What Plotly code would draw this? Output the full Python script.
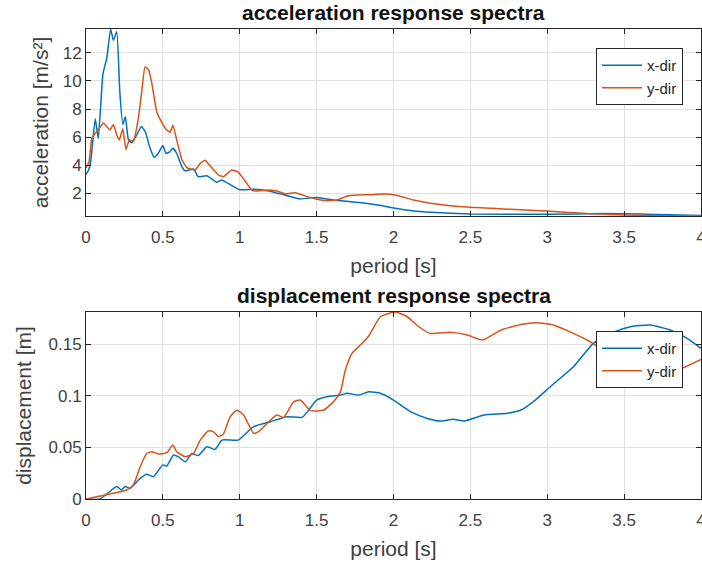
import plotly.graph_objects as go

# ---- data (period [s], values) ----
acc_x_T = [0, 0.015, 0.03, 0.06, 0.08, 0.11, 0.135, 0.16, 0.178, 0.2, 0.22, 0.24, 0.256, 0.276, 0.298, 0.33, 0.36,
           0.385, 0.417, 0.443, 0.47, 0.5, 0.52, 0.545, 0.565, 0.59, 0.623, 0.645, 0.7, 0.73, 0.786, 0.85, 0.883,
           0.94, 1.0, 1.09, 1.18, 1.285, 1.39, 1.5, 1.61, 1.72, 1.83, 1.92, 2.01, 2.12, 2.24, 2.5, 3.0, 3.37, 3.6,
           3.8, 4.0]
acc_x = [3.35, 3.6, 4.2, 7.3, 5.9, 10.5, 11.6, 13.7, 12.9, 13.5, 9.2, 6.9, 7.45, 5.8, 5.6, 6.15, 6.75,
         6.4, 5.2, 4.55, 4.85, 5.4, 4.85, 4.95, 5.2, 4.85, 3.9, 3.6, 3.73, 3.18, 3.25, 2.78, 2.95,
         2.6, 2.25, 2.28, 2.18, 1.9, 1.6, 1.7, 1.52, 1.4, 1.27, 1.12, 0.93, 0.75, 0.64, 0.53, 0.5, 0.55, 0.52,
         0.47, 0.42]

acc_y_T = [0, 0.02, 0.037, 0.06, 0.087, 0.113, 0.135, 0.156, 0.178, 0.2, 0.217, 0.239, 0.26, 0.282, 0.308, 0.34,
           0.362, 0.384, 0.406, 0.427, 0.46, 0.49, 0.525, 0.547, 0.565, 0.59, 0.623, 0.656, 0.71, 0.743, 0.775,
           0.8, 0.862, 0.894, 0.949, 0.99, 1.036, 1.08, 1.12, 1.18, 1.24, 1.3, 1.36, 1.44, 1.5, 1.567, 1.63, 1.7,
           1.763, 1.85, 1.94, 2.01, 2.13, 2.24, 2.5, 2.76, 3.02, 3.26, 3.5, 3.7, 4.0]
acc_y = [3.8, 4.25, 5.9, 6.27, 6.63, 7.0, 6.75, 6.5, 6.9, 6.15, 5.8, 6.6, 5.1, 5.8, 5.72, 7.3,
         9.2, 11.0, 10.8, 9.9, 7.8, 7.1, 6.5, 6.34, 6.86, 5.8, 4.4, 3.82, 3.66, 4.13, 4.35,
         4.05, 3.3, 3.18, 3.66, 3.5, 2.85, 2.2, 2.16, 2.23, 2.16, 1.95, 2.04, 1.76, 1.57, 1.47, 1.52, 1.8,
         1.88, 1.9, 1.95, 1.88, 1.52, 1.29, 1.0, 0.86, 0.72, 0.55, 0.46, 0.4, 0.4]

dis_x_T = [0, 0.09, 0.2, 0.23, 0.254, 0.287, 0.352, 0.395, 0.438, 0.5, 0.525, 0.569, 0.6, 0.645, 0.689, 0.73,
           0.786, 0.84, 0.884, 0.99, 1.09, 1.2, 1.307, 1.405, 1.448, 1.5, 1.567, 1.655, 1.698, 1.774, 1.84, 1.915,
           2.0, 2.11, 2.22, 2.3, 2.39, 2.46, 2.59, 2.74, 2.83, 2.91, 3.02, 3.17, 3.3, 3.44, 3.54, 3.67, 3.8, 3.91,
           4.0]
dis_x = [0, 0.0, 0.012, 0.0087, 0.012, 0.0105, 0.02, 0.024, 0.0216, 0.033, 0.032, 0.0426, 0.041, 0.036, 0.044,
         0.042, 0.0506, 0.048, 0.057, 0.057, 0.07, 0.0748, 0.0797, 0.079, 0.086, 0.0958, 0.099, 0.1006, 0.1023,
         0.1006, 0.1039, 0.1023, 0.0958, 0.0845, 0.078, 0.0755, 0.0771, 0.0755, 0.0813, 0.083, 0.0861, 0.0942,
         0.1087, 0.128, 0.1507, 0.162, 0.1668, 0.1684, 0.1636, 0.1555, 0.1458]

dis_y_T = [0, 0.156, 0.265, 0.308, 0.352, 0.395, 0.428, 0.471, 0.525, 0.565, 0.59, 0.645, 0.699, 0.743, 0.797,
           0.83, 0.862, 0.894, 0.938, 0.981, 1.025, 1.09, 1.12, 1.2, 1.242, 1.285, 1.35, 1.394, 1.46, 1.546, 1.61,
           1.655, 1.687, 1.73, 1.785, 1.84, 1.915, 2.01, 2.09, 2.15, 2.236, 2.37, 2.48, 2.58, 2.7, 2.83, 2.93,
           3.04, 3.17, 3.28, 3.4, 3.5, 3.6, 3.7, 3.8, 3.9, 4.0]
dis_y = [0, 0.0048, 0.0087, 0.0135, 0.031, 0.044, 0.0458, 0.0435, 0.0448, 0.0523, 0.0458, 0.041, 0.044, 0.057,
         0.066, 0.065, 0.0603, 0.0629, 0.0797, 0.086, 0.0813, 0.0636, 0.065, 0.0765, 0.0813, 0.079, 0.094, 0.0958,
         0.0855, 0.0861, 0.0942, 0.1039, 0.1248, 0.141, 0.149, 0.158, 0.1764, 0.181, 0.1764, 0.1684, 0.1603,
         0.1613, 0.1587, 0.1539, 0.1636, 0.169, 0.1706, 0.1684, 0.1603, 0.1522, 0.14, 0.131, 0.125, 0.122, 0.123,
         0.128, 0.135]

x_ticks = [0, 0.5, 1, 1.5, 2, 2.5, 3, 3.5, 4]
acc_ticks = [2, 4, 6, 8, 10, 12]
dis_ticks = [0, 0.05, 0.1, 0.15]
series_names = ["x-dir", "y-dir"]

BLUE = "#0072BD"
ORANGE = "#D95319"
AX = "#262626"
GRID = "#e0e0e0"
FONT = "Liberation Sans, Arial, sans-serif"
TICKCOL = "#404040"

W, H = 702, 566
fig = go.Figure()
line_kw = dict(width=1.5)
fig.add_trace(go.Scatter(x=acc_x_T, y=acc_x, mode="lines", name=series_names[0],
                         line=dict(color=BLUE, shape="spline", smoothing=0.4, **line_kw),
                         xaxis="x", yaxis="y", legend="legend"))
fig.add_trace(go.Scatter(x=acc_y_T, y=acc_y, mode="lines", name=series_names[1],
                         line=dict(color=ORANGE, shape="spline", smoothing=0.4, **line_kw),
                         xaxis="x", yaxis="y", legend="legend"))
fig.add_trace(go.Scatter(x=dis_x_T, y=dis_x, mode="lines", name=series_names[0],
                         line=dict(color=BLUE, shape="spline", smoothing=0.5, **line_kw),
                         xaxis="x2", yaxis="y2", legend="legend2"))
fig.add_trace(go.Scatter(x=dis_y_T, y=dis_y, mode="lines", name=series_names[1],
                         line=dict(color=ORANGE, shape="spline", smoothing=0.5, **line_kw),
                         xaxis="x2", yaxis="y2", legend="legend2"))

def px_x(p):
    return p / W

def px_y(p):
    return (H - p) / H

axis_common = dict(showline=True, linecolor=AX, linewidth=1, mirror="allticks", ticks="inside",
                   ticklen=5, tickcolor=AX, showgrid=True, gridcolor=GRID, gridwidth=1, zeroline=False,
                   tickfont=dict(family=FONT, size=17, color=TICKCOL), automargin=False,
                   ticklabeloverflow="allow")

def title(text, standoff):
    return dict(text=text, font=dict(size=21, family=FONT, color=TICKCOL), standoff=standoff)

xdom = [px_x(86), px_x(701)]
fig.update_layout(
    width=W, height=H, margin=dict(l=0, r=0, t=0, b=0),
    paper_bgcolor="white", plot_bgcolor="white",
    font=dict(family=FONT, color="#262626"),
    xaxis=dict(domain=xdom, range=[0, 4], tickvals=x_ticks, anchor="y", ticklabelstandoff=6,
               title=title("period [s]", 11), **axis_common),
    yaxis=dict(domain=[px_y(216), px_y(29)], range=[0.38, 13.7], tickvals=acc_ticks, anchor="x",
               title=title("acceleration [m/s²]", 8), **axis_common),
    xaxis2=dict(domain=xdom, range=[0, 4], tickvals=x_ticks, anchor="y2", ticklabelstandoff=6,
                title=title("period [s]", 11), **axis_common),
    yaxis2=dict(domain=[px_y(499), px_y(312)], range=[0, 0.181], tickvals=dis_ticks, anchor="x2",
                title=title("displacement [m]", 11), **axis_common),
    legend=dict(x=px_x(683), y=px_y(48), xanchor="right", yanchor="top", bgcolor="white",
                bordercolor=AX, borderwidth=1, font=dict(family=FONT, size=15, color="#262626"),
                itemwidth=40, tracegroupgap=0),
    legend2=dict(x=px_x(683), y=px_y(331), xanchor="right", yanchor="top", bgcolor="white",
                 bordercolor=AX, borderwidth=1, font=dict(family=FONT, size=15, color="#262626"),
                 itemwidth=40, tracegroupgap=0),
    annotations=[
        dict(text="<b>acceleration response spectra</b>", x=(xdom[0] + xdom[1]) / 2, y=px_y(12),
             xref="paper", yref="paper", showarrow=False, xanchor="center", yanchor="middle",
             font=dict(family=FONT, size=21, color="#111111")),
        dict(text="<b>displacement response spectra</b>", x=(xdom[0] + xdom[1]) / 2, y=px_y(296),
             xref="paper", yref="paper", showarrow=False, xanchor="center", yanchor="middle",
             font=dict(family=FONT, size=21, color="#111111")),
    ],
)

fig.write_html("out.html", config={"displayModeBar": False},
               post_script="document.body.style.margin='0';document.body.style.overflow='hidden';")
